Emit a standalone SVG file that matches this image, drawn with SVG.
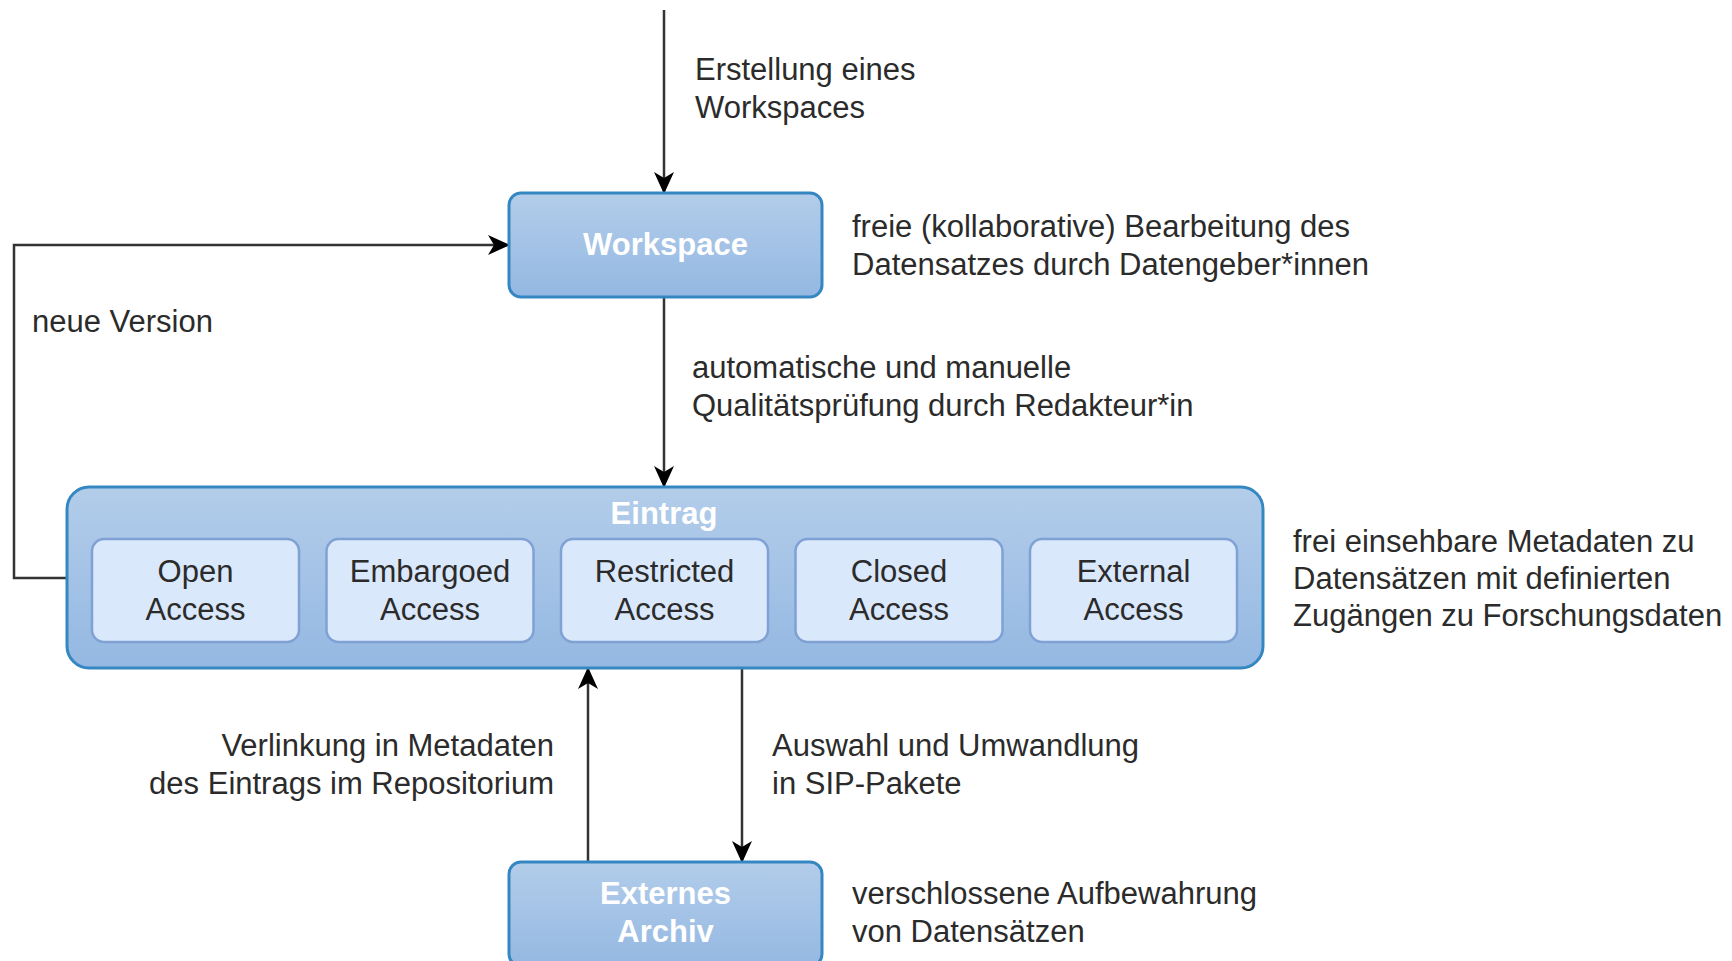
<svg xmlns="http://www.w3.org/2000/svg" width="1732" height="961" viewBox="0 0 1732 961">
<defs>
<linearGradient id="blueGrad" x1="0" y1="0" x2="0" y2="1">
<stop offset="0" stop-color="#b3cdea"/>
<stop offset="1" stop-color="#94b8e2"/>
</linearGradient>
<marker id="arrow" viewBox="0 0 22 20" refX="21" refY="10" markerWidth="22" markerHeight="20" markerUnits="userSpaceOnUse" orient="auto">
<path d="M0,0 L22,10 L0,20 L6,10 z" fill="#000"/>
</marker>
<style>
.box{fill:url(#blueGrad);stroke:#3587c2;stroke-width:3}
.inner{fill:#dae8fc;stroke:#7fa1d4;stroke-width:2.5}
.title{font-family:"Liberation Sans",Arial,sans-serif;font-size:31px;font-weight:bold;fill:#ffffff;text-anchor:middle}
.itext{font-family:"Liberation Sans",Arial,sans-serif;font-size:31px;fill:#2b2b2b;text-anchor:middle}
.label{font-family:"Liberation Sans",Arial,sans-serif;font-size:31px;fill:#2b2b2b}
.conn{fill:none;stroke:#333333;stroke-width:2.5;marker-end:url(#arrow)}
</style>
</defs>
<rect width="1732" height="961" fill="#ffffff"/>

<g id="connectors">
<path class="conn" d="M664,10 V193"/>
<path class="conn" d="M664,297 V487"/>
<path class="conn" d="M67,578 H14 V245 H509"/>
<path class="conn" d="M588,862 V668"/>
<path class="conn" d="M742,668 V862"/>
</g>

<g id="workspace">
<rect class="box" x="509" y="193" width="313" height="104" rx="12"/>
<text class="title" x="665.5" y="255">Workspace</text>
</g>

<g id="eintrag">
<rect class="box" x="67" y="487" width="1196" height="181" rx="22"/>
<text class="title" x="664" y="524">Eintrag</text>
</g>

<g id="open-access">
<rect class="inner" x="92" y="539" width="207" height="103" rx="12"/>
<text class="itext" x="195.5" y="582">Open</text>
<text class="itext" x="195.5" y="620">Access</text>
</g>
<g id="embargoed-access">
<rect class="inner" x="326.5" y="539" width="207" height="103" rx="12"/>
<text class="itext" x="430" y="582">Embargoed</text>
<text class="itext" x="430" y="620">Access</text>
</g>
<g id="restricted-access">
<rect class="inner" x="561" y="539" width="207" height="103" rx="12"/>
<text class="itext" x="664.5" y="582">Restricted</text>
<text class="itext" x="664.5" y="620">Access</text>
</g>
<g id="closed-access">
<rect class="inner" x="795.5" y="539" width="207" height="103" rx="12"/>
<text class="itext" x="899" y="582">Closed</text>
<text class="itext" x="899" y="620">Access</text>
</g>
<g id="external-access">
<rect class="inner" x="1030" y="539" width="207" height="103" rx="12"/>
<text class="itext" x="1133.5" y="582">External</text>
<text class="itext" x="1133.5" y="620">Access</text>
</g>

<g id="externes-archiv">
<rect class="box" x="509" y="862" width="313" height="104" rx="12"/>
<text class="title" x="665.5" y="904">Externes</text>
<text class="title" x="665.5" y="942">Archiv</text>
</g>

<g id="labels">
<text class="label" x="695" y="80">Erstellung eines</text>
<text class="label" x="695" y="118">Workspaces</text>
<text class="label" x="852" y="237">freie (kollaborative) Bearbeitung des</text>
<text class="label" x="852" y="275">Datensatzes durch Datengeber*innen</text>
<text class="label" x="32" y="332">neue Version</text>
<text class="label" x="692" y="378">automatische und manuelle</text>
<text class="label" x="692" y="416">Qualitätsprüfung durch Redakteur*in</text>
<text class="label" x="1293" y="552">frei einsehbare Metadaten zu</text>
<text class="label" x="1293" y="589">Datensätzen mit definierten</text>
<text class="label" x="1293" y="626">Zugängen zu Forschungsdaten</text>
<text class="label" x="554" y="756" text-anchor="end">Verlinkung in Metadaten</text>
<text class="label" x="554" y="794" text-anchor="end">des Eintrags im Repositorium</text>
<text class="label" x="772" y="756">Auswahl und Umwandlung</text>
<text class="label" x="772" y="794">in SIP-Pakete</text>
<text class="label" x="852" y="904">verschlossene Aufbewahrung</text>
<text class="label" x="852" y="942">von Datensätzen</text>
</g>
</svg>
